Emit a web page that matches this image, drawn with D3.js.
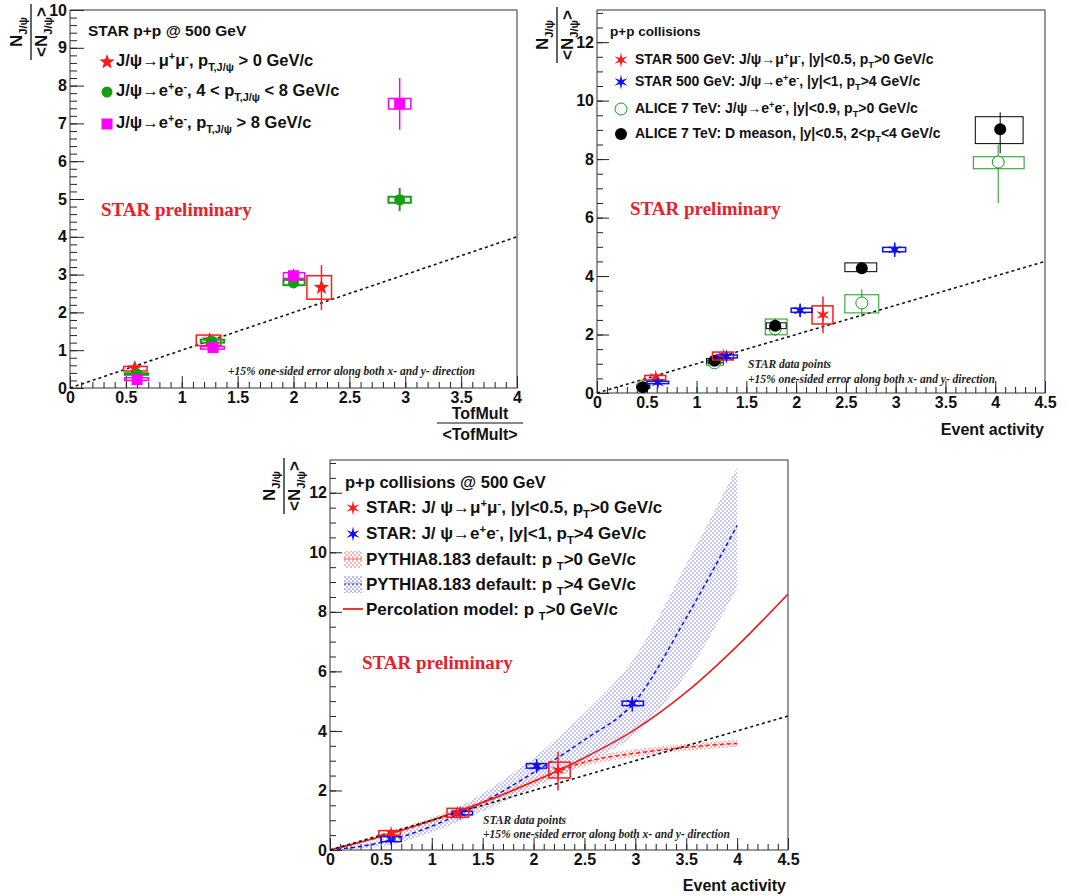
<!DOCTYPE html>
<html lang="en">
<head>
<meta charset="UTF-8">
<title>J/psi yield vs event activity</title>
<script src="https://cdn.jsdelivr.net/npm/d3@7"></script>
<style>
  body { margin: 0; background: #fff; }
  svg { display: block; }
  text { white-space: pre; }
</style>
</head>
<body>
<svg id="chart" width="1069" height="896"></svg>
<script>
// ---------------- data ----------------
// top-left panel: J/psi yield vs TofMult
const tlXTicks = [0, 0.5, 1, 1.5, 2, 2.5, 3, 3.5, 4];
const tlYTicks = [0, 1, 2, 3, 4, 5, 6, 7, 8, 9, 10];
const tlLegend = ["J/ψ→μ^{+}μ^{-}, p_{T,J/ψ} > 0 GeV/c",
                  "J/ψ→e^{+}e^{-}, 4 < p_{T,J/ψ} < 8 GeV/c",
                  "J/ψ→e^{+}e^{-}, p_{T,J/ψ} > 8 GeV/c"];

const tlMuX = [0.58, 1.25, 2.25];
const tlMuY = [0.53, 1.27, 2.66];
const tlMuBox = [[0.48, 0.69, 0.45, 0.57], [1.13, 1.35, 1.12, 1.40], [2.12, 2.34, 2.35, 2.97]];
const tlMuErr = [[0.45, 0.62], [1.15, 1.38], [2.06, 3.25]];

const tlMidX = [0.6, 1.27, 2.0, 2.95];
const tlMidY = [0.37, 1.24, 2.78, 4.98];
const tlMidBox = [[0.49, 0.70, 0.35, 0.39], [1.17, 1.38, 1.20, 1.28], [1.91, 2.10, 2.72, 2.86], [2.85, 3.05, 4.90, 5.06]];
const tlMidErr = [[0.30, 0.45], [1.15, 1.32], [2.70, 2.88], [4.68, 5.29]];

const tlHighX = [0.6, 1.28, 2.0, 2.95];
const tlHighY = [0.22, 1.07, 2.97, 7.52];
const tlHighBox = [[0.49, 0.70, 0.20, 0.27], [1.17, 1.38, 1.03, 1.10], [1.91, 2.10, 2.90, 3.05], [2.85, 3.05, 7.38, 7.66]];
const tlHighErr = [[0.12, 0.32], [0.98, 1.15], [2.85, 3.15], [6.83, 8.20]];

// top-right panel: STAR vs ALICE
const eaXTicks = [0, 0.5, 1, 1.5, 2, 2.5, 3, 3.5, 4, 4.5];
const eaYTicks = [0, 2, 4, 6, 8, 10, 12];
const trLegend = ["STAR 500 GeV: J/ψ→μ^{+}μ^{-}, |y|<0.5, p_{T}>0 GeV/c",
                  "STAR 500 GeV: J/ψ→e^{+}e^{-}, |y|<1, p_{T}>4 GeV/c",
                  "ALICE 7 TeV: J/ψ→e^{+}e^{-}, |y|<0.9, p_{T}>0 GeV/c",
                  "ALICE 7 TeV: D meason, |y|<0.5, 2<p_{T}<4 GeV/c"];

const trMuX = [0.59, 1.27, 2.27];
const trMuY = [0.55, 1.27, 2.67];
const trMuBox = [[0.48, 0.69, 0.45, 0.60], [1.16, 1.37, 1.13, 1.40], [2.16, 2.37, 2.36, 2.98]];
const trMuErr = [[0.42, 0.68], [1.10, 1.42], [2.05, 3.30]];

const trEeX = [0.61, 1.30, 2.04, 2.99];
const trEeY = [0.36, 1.25, 2.82, 4.90];
const trEeBox = [[0.50, 0.72, 0.32, 0.40], [1.20, 1.41, 1.20, 1.30], [1.95, 2.16, 2.76, 2.90], [2.87, 3.10, 4.83, 4.98]];
const trEeErr = [[0.20, 0.50], [1.10, 1.40], [2.60, 3.05], [4.65, 5.15]];

const aliceJpsiX = [0.46, 1.18, 1.79, 2.66, 4.03];
const aliceJpsiY = [0.24, 1.03, 2.20, 3.08, 7.90];
const aliceJpsiBox = [[0.40, 0.53, 0.20, 0.30], [1.10, 1.27, 0.95, 1.10], [1.69, 1.91, 1.99, 2.53], [2.49, 2.83, 2.74, 3.36], [3.78, 4.29, 7.67, 8.08]];
const aliceJpsiErr = [[0.15, 0.33], [0.90, 1.18], [1.95, 2.55], [2.60, 3.55], [6.50, 8.50]];

const aliceDX = [0.46, 1.18, 1.79, 2.66, 4.05];
const aliceDY = [0.20, 1.10, 2.30, 4.27, 9.02];
const aliceDBox = [[0.40, 0.53, 0.15, 0.25], [1.10, 1.27, 1.03, 1.18], [1.70, 1.90, 2.20, 2.40], [2.49, 2.81, 4.15, 4.45], [3.80, 4.28, 8.53, 9.45]];
const aliceDErr = [[0.10, 0.30], [1.00, 1.20], [2.15, 2.45], [4.10, 4.45], [8.20, 9.60]];

// bottom panel: STAR vs models
const btLegend = ["STAR: J/ ψ→μ^{+}μ^{-}, |y|<0.5, p_{T}>0 GeV/c",
                  "STAR: J/ ψ→e^{+}e^{-}, |y|<1, p_{T}>4 GeV/c",
                  "PYTHIA8.183 default: p _{T}>0 GeV/c",
                  "PYTHIA8.183 default: p _{T}>4 GeV/c",
                  "Percolation model: p _{T}>0 GeV/c"];

const btMuX = [0.60, 1.25, 2.24];
const btMuY = [0.57, 1.24, 2.68];
const btMuBox = [[0.48, 0.69, 0.50, 0.65], [1.15, 1.36, 1.10, 1.40], [2.15, 2.36, 2.42, 2.95]];
const btMuErr = [[0.45, 0.70], [1.10, 1.40], [2.00, 3.30]];

const btEeX = [0.60, 1.28, 2.03, 2.97];
const btEeY = [0.37, 1.24, 2.82, 4.93];
const btEeBox = [[0.50, 0.70, 0.28, 0.45], [1.20, 1.40, 1.18, 1.30], [1.93, 2.13, 2.75, 2.90], [2.87, 3.08, 4.85, 5.00]];
const btEeErr = [[0.20, 0.50], [1.10, 1.38], [2.60, 3.05], [4.65, 5.15]];

const pythiaX = [0, 0.5, 1, 1.5, 2, 2.5, 3, 3.5, 4];
const pythiaLowPtMid = [0, 0.45, 0.98, 1.58, 2.30, 2.95, 3.25, 3.45, 3.58];
const pythiaLowPtLo = [0, 0.38, 0.88, 1.46, 2.18, 2.82, 3.12, 3.33, 3.46];
const pythiaLowPtHi = [0, 0.52, 1.08, 1.70, 2.42, 3.08, 3.38, 3.57, 3.70];
const pythiaHighPtMid = [0, 0.25, 0.80, 1.60, 2.60, 3.70, 5.00, 7.80, 10.90];
const pythiaHighPtLo = [0, 0.12, 0.60, 1.30, 2.10, 2.90, 3.90, 5.90, 8.80];
const pythiaHighPtHi = [0, 0.35, 1.00, 1.90, 3.10, 4.60, 6.50, 9.60, 12.85];

const percX = [0, 0.5, 1, 1.5, 2, 2.5, 3, 3.5, 4, 4.5];
const percY = [0, 0.45, 1.00, 1.60, 2.30, 3.10, 4.05, 5.30, 6.85, 8.60];

// ---------------- setup ----------------
const SANS = "'Liberation Sans', Arial, Helvetica, sans-serif";
const SERIF = "'Liberation Serif', 'Times New Roman', serif";
const RED = "#ff1a1a", BLUE = "#1010ee", GREEN = "#169c16", MAG = "#ff00ff";

const svg = d3.select("#chart");
const defs = svg.append("defs");

function checker(id, c) {
  const p = defs.append("pattern").attr("id", id)
    .attr("width", 4).attr("height", 4).attr("patternUnits", "userSpaceOnUse");
  p.append("rect").attr("width", 2).attr("height", 2).attr("fill", c);
  p.append("rect").attr("x", 2).attr("y", 2).attr("width", 2).attr("height", 2).attr("fill", c);
}
checker("dotBlue", "#a4a4e4");
checker("dotRed", "#f4a0a0");

function makePanel(f, xMax, yMax) {
  return {
    f: f,
    x: d3.scaleLinear().domain([0, xMax]).range([f.l, f.r]),
    y: d3.scaleLinear().domain([0, yMax]).range([f.b, f.t])
  };
}

const tl = makePanel({l: 70, r: 517, t: 10, b: 388}, 4, 10);
const tr = makePanel({l: 597, r: 1045, t: 10, b: 393}, 4.5, 13.1);
const bt = makePanel({l: 330, r: 788, t: 460, b: 850}, 4.5, 13.1);

// text with _{sub} and ^{sup}
function rich(t, str, fs) {
  const parts = str.split(/([_^]\{[^}]*\})/);
  let off = 0;
  parts.forEach(function (p) {
    if (!p) return;
    let target = 0, txt = p, size = fs;
    if (p[0] === "_" && p[1] === "{") { target = 0.32 * fs; txt = p.slice(2, -1); size = 0.66 * fs; }
    else if (p[0] === "^" && p[1] === "{") { target = -0.38 * fs; txt = p.slice(2, -1); size = 0.66 * fs; }
    t.append("tspan").attr("dy", target - off).attr("font-size", size).text(txt);
    off = target;
  });
  return t;
}

function label(x, y, str, fs, opts) {
  opts = opts || {};
  const t = svg.append("text").attr("x", x).attr("y", y)
    .attr("font-family", opts.family || SANS)
    .attr("font-weight", "bold")
    .attr("font-style", opts.italic ? "italic" : "normal")
    .attr("text-anchor", opts.anchor || "start")
    .attr("fill", opts.color || "#111")
    .attr("font-size", fs);
  return rich(t, str, fs);
}

function axes(p, xTicks, yTicks, yMinorStep, fs, yLen) {
  const g = svg.append("g");
  const xMax = p.x.domain()[1], yMax = p.y.domain()[1];
  const xMinor = d3.range(0, xMax + 1e-6, 0.1);
  const yMinor = d3.range(0, yMax + 1e-6, yMinorStep);
  g.append("g").attr("transform", "translate(0," + p.f.b + ")")
    .call(d3.axisBottom(p.x).tickValues(xMinor).tickSize(-6).tickFormat(""));
  g.append("g").attr("transform", "translate(0," + p.f.b + ")")
    .call(d3.axisBottom(p.x).tickValues(xTicks).tickSize(-12).tickPadding(4).tickFormat(d3.format("~g")));
  g.append("g").attr("transform", "translate(" + p.f.l + ",0)")
    .call(d3.axisLeft(p.y).tickValues(yMinor).tickSize(-yLen / 2).tickFormat(""));
  g.append("g").attr("transform", "translate(" + p.f.l + ",0)")
    .call(d3.axisLeft(p.y).tickValues(yTicks).tickSize(-yLen).tickPadding(3).tickFormat(d3.format("~g")));
  g.selectAll(".domain").remove();
  g.selectAll("line").attr("stroke", "#222").attr("stroke-width", 1);
  g.selectAll("text").attr("font-family", SANS).attr("font-weight", "bold")
    .attr("font-size", fs).attr("fill", "#111");
  svg.append("rect").attr("x", p.f.l).attr("y", p.f.t)
    .attr("width", p.f.r - p.f.l).attr("height", p.f.b - p.f.t)
    .attr("fill", "none").attr("stroke", "#333").attr("stroke-width", 1);
}

// rotated N / <N> fraction used as y title
function fracTitle(cx, cy, len, fs) {
  const g = svg.append("g").attr("transform", "translate(" + cx + "," + cy + ") rotate(-90)")
    .attr("font-family", SANS).attr("font-weight", "bold").attr("fill", "#111");
  rich(g.append("text").attr("x", 0).attr("y", -9).attr("text-anchor", "middle").attr("font-size", fs), "N_{J/ψ}", fs);
  g.append("line").attr("x1", -len / 2).attr("x2", len / 2).attr("stroke", "#111").attr("stroke-width", 1.3);
  rich(g.append("text").attr("x", 0).attr("y", fs - 1).attr("text-anchor", "middle").attr("font-size", fs), "<N_{J/ψ}>", fs);
}

function starPath(n, R, r) {
  const pts = [];
  for (let i = 0; i < 2 * n; i++) {
    const a = -Math.PI / 2 + i * Math.PI / n;
    const rr = i % 2 ? r : R;
    pts.push((rr * Math.cos(a)).toFixed(2) + "," + (rr * Math.sin(a)).toFixed(2));
  }
  return "M" + pts.join("L") + "Z";
}

function marker(g, kind, color, cx, cy) {
  if (kind === "star5") {
    g.append("path").attr("d", starPath(5, 8, 3.3)).attr("transform", "translate(" + cx + "," + cy + ")").attr("fill", color);
  } else if (kind === "star6") {
    g.append("path").attr("d", starPath(6, 7.5, 2.4)).attr("transform", "translate(" + cx + "," + cy + ")").attr("fill", color);
  } else if (kind === "dot") {
    g.append("circle").attr("cx", cx).attr("cy", cy).attr("r", 5.5).attr("fill", color);
  } else if (kind === "bigdot") {
    g.append("circle").attr("cx", cx).attr("cy", cy).attr("r", 6).attr("fill", color);
  } else if (kind === "ring") {
    g.append("circle").attr("cx", cx).attr("cy", cy).attr("r", 6).attr("fill", "#fff").attr("stroke", color).attr("stroke-width", 1);
  } else if (kind === "square") {
    g.append("rect").attr("x", cx - 5.5).attr("y", cy - 5.5).attr("width", 11).attr("height", 11).attr("fill", color);
  }
}

function series(p, xs, ys, boxes, errs, kind, color, bw) {
  const g = svg.append("g");
  g.selectAll("rect.sys").data(boxes).join("rect").attr("class", "sys")
    .attr("x", d => p.x(d[0])).attr("width", d => p.x(d[1]) - p.x(d[0]))
    .attr("y", d => p.y(d[3])).attr("height", d => p.y(d[2]) - p.y(d[3]))
    .attr("fill", "none").attr("stroke", color).attr("stroke-width", bw);
  g.selectAll("line.err").data(errs).join("line").attr("class", "err")
    .attr("x1", (d, i) => p.x(xs[i])).attr("x2", (d, i) => p.x(xs[i]))
    .attr("y1", d => p.y(d[0])).attr("y2", d => p.y(d[1]))
    .attr("stroke", color).attr("stroke-width", bw);
  xs.forEach((x, i) => marker(g, kind, color, p.x(x), p.y(ys[i])));
}

function diagonal(p, xEnd) {
  svg.append("line").attr("x1", p.x(0)).attr("y1", p.y(0)).attr("x2", p.x(xEnd)).attr("y2", p.y(xEnd))
    .attr("stroke", "#111").attr("stroke-width", 1.6).attr("stroke-dasharray", "3,3");
}

// ---------------- top-left ----------------
axes(tl, tlXTicks, tlYTicks, 0.2, 16, 14);
fracTitle(31, 32, 56, 17);
label(480, 419, "TofMult", 16, {anchor: "middle"});
svg.append("line").attr("x1", 437).attr("x2", 523).attr("y1", 423).attr("y2", 423).attr("stroke", "#111").attr("stroke-width", 1.2);
label(480, 440, "<TofMult>", 16, {anchor: "middle"});

diagonal(tl, 4);
series(tl, tlMuX, tlMuY, tlMuBox, tlMuErr, "star5", RED, 1.5);
series(tl, tlMidX, tlMidY, tlMidBox, tlMidErr, "dot", GREEN, 2);
series(tl, tlHighX, tlHighY, tlHighBox, tlHighErr, "square", MAG, 1.5);

label(88, 36, "STAR p+p @ 500 GeV", 15.5);
const tlLeg = svg.append("g");
[["star5", RED], ["dot", GREEN], ["square", MAG]].forEach((m, i) => {
  const yb = [66, 96, 128][i];
  marker(tlLeg, m[0], m[1], 107, yb - 4);
  label(116, yb, tlLegend[i], 16.5);
});
label(101, 216, "STAR preliminary", 19, {family: SERIF, color: "#e8202a"});
label(228, 375, "+15% one-sided error along both x- and y- direction", 11.5, {family: SERIF, italic: true, color: "#222"});

// ---------------- top-right ----------------
axes(tr, eaXTicks, eaYTicks, 0.5, 16, 12);
fracTitle(557, 35, 56, 17);
label(1044, 435, "Event activity", 16, {anchor: "end"});

diagonal(tr, 4.5);
series(tr, aliceJpsiX, aliceJpsiY, aliceJpsiBox, aliceJpsiErr, "ring", GREEN, 1);
series(tr, aliceDX, aliceDY, aliceDBox, aliceDErr, "bigdot", "#000", 1);
series(tr, trMuX, trMuY, trMuBox, trMuErr, "star6", RED, 1.5);
series(tr, trEeX, trEeY, trEeBox, trEeErr, "star6", BLUE, 1.5);

label(610, 36, "p+p collisions", 13.5);
const trLeg = svg.append("g");
[["star6", RED], ["star6", BLUE], ["ring", GREEN], ["bigdot", "#000"]].forEach((m, i) => {
  const yc = [59, 81, 108, 133][i];
  marker(trLeg, m[0], m[1], 621, yc + 1);
  label(635, yc + 5, trLegend[i], 14);
});
label(630, 215, "STAR preliminary", 19, {family: SERIF, color: "#e8202a"});
label(748, 368, "STAR data points", 11.5, {family: SERIF, italic: true, color: "#222"});
label(748, 383, "+15% one-sided error along both x- and y- direction", 11.5, {family: SERIF, italic: true, color: "#222"});

// ---------------- bottom ----------------
axes(bt, eaXTicks, eaYTicks, 0.5, 16, 12);
fracTitle(284, 486, 56, 17);
label(786, 891, "Event activity", 16, {anchor: "end"});

const clip = defs.append("clipPath").attr("id", "btClip");
clip.append("rect").attr("x", bt.f.l).attr("y", bt.f.t).attr("width", bt.f.r - bt.f.l).attr("height", bt.f.b - bt.f.t);
const models = svg.append("g").attr("clip-path", "url(#btClip)");

const band = (lo, hi) => d3.area().x((d, i) => bt.x(pythiaX[i])).y0((d, i) => bt.y(lo[i])).y1((d, i) => bt.y(hi[i])).curve(d3.curveMonotoneX);
const curve = (xs) => d3.line().x((d, i) => bt.x(xs[i])).y(d => bt.y(d)).curve(d3.curveMonotoneX);

models.append("path").attr("d", band(pythiaHighPtLo, pythiaHighPtHi)(pythiaX)).attr("fill", "url(#dotBlue)").attr("opacity", 0.6);
models.append("path").attr("d", band(pythiaLowPtLo, pythiaLowPtHi)(pythiaX)).attr("fill", "url(#dotRed)").attr("opacity", 0.75);
diagonal(bt, 4.5);
models.append("path").attr("d", curve(pythiaX)(pythiaHighPtMid)).attr("fill", "none")
  .attr("stroke", BLUE).attr("stroke-width", 1.5).attr("stroke-dasharray", "4,3");
models.append("path").attr("d", curve(pythiaX)(pythiaLowPtMid)).attr("fill", "none")
  .attr("stroke", RED).attr("stroke-width", 1.5).attr("stroke-dasharray", "4,3");
models.append("path").attr("d", curve(percX)(percY)).attr("fill", "none")
  .attr("stroke", "#e82020").attr("stroke-width", 1.6);

series(bt, btEeX, btEeY, btEeBox, btEeErr, "star6", BLUE, 1.5);
series(bt, btMuX, btMuY, btMuBox, btMuErr, "star6", RED, 1.5);

label(345, 488, "p+p collisions @ 500 GeV", 16.5);
const btLeg = svg.append("g");
btLegend.forEach((s, i) => {
  const yc = [507, 533, 559, 584, 609][i];
  const mx = 353;
  if (i === 0) marker(btLeg, "star6", RED, mx, yc + 1);
  if (i === 1) marker(btLeg, "star6", BLUE, mx, yc + 1);
  if (i === 2 || i === 3) {
    const c = i === 2 ? "Red" : "Blue";
    btLeg.append("rect").attr("x", mx - 9).attr("y", yc - 8).attr("width", 18).attr("height", 17)
      .attr("fill", "url(#dot" + c + ")").attr("opacity", 0.75);
    btLeg.append("line").attr("x1", mx - 9).attr("x2", mx + 9).attr("y1", yc).attr("y2", yc)
      .attr("stroke", i === 2 ? RED : BLUE).attr("stroke-width", 1.2).attr("stroke-dasharray", "2,2");
  }
  if (i === 4) btLeg.append("line").attr("x1", mx - 10).attr("x2", mx + 10).attr("y1", yc).attr("y2", yc)
    .attr("stroke", "#e82020").attr("stroke-width", 1.8);
  label(366, yc + 6, s, 17);
});
label(362, 669, "STAR preliminary", 19, {family: SERIF, color: "#e8202a"});
label(483, 824, "STAR data points", 11.5, {family: SERIF, italic: true, color: "#222"});
label(483, 838, "+15% one-sided error along both x- and y- direction", 11.5, {family: SERIF, italic: true, color: "#222"});
</script>
</body>
</html>
